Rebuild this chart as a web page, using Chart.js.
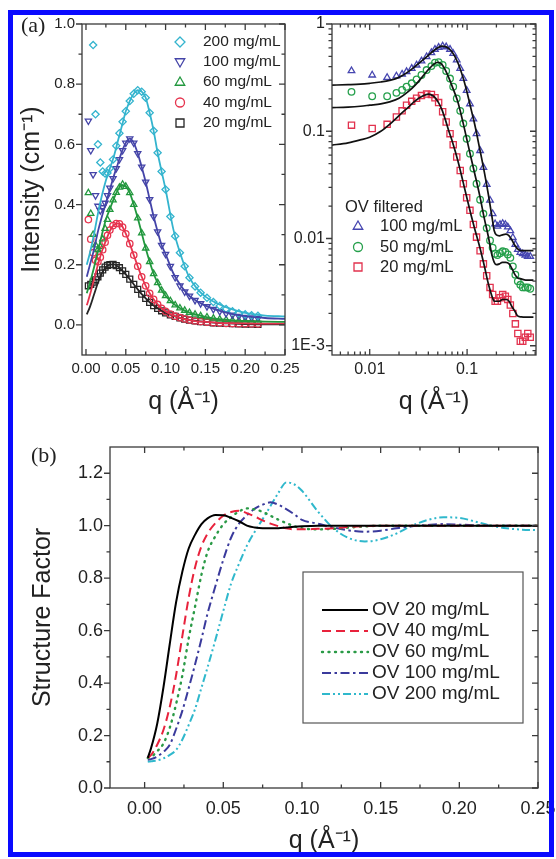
<!DOCTYPE html>
<html>
<head>
<meta charset="utf-8">
<script src="https://cdn.jsdelivr.net/npm/chart.js@4.4.0/dist/chart.umd.min.js"></script>
<style>
  html, body { margin: 0; padding: 0; background: #fff; }
  #page { position: relative; width: 556px; height: 859px; overflow: hidden; background: #fff; }
  canvas { position: absolute; }
  #frame { position: absolute; left: 8px; top: 10px; width: 536px; height: 837px; border: 5px solid #0a0aff; pointer-events: none; }
</style>
</head>
<body>
<div id="page">
  <canvas id="chartA" width="310" height="430" style="left:0;top:0;width:310px;height:430px"></canvas>
  <canvas id="chartB" width="266" height="430" style="left:290px;top:0;width:266px;height:430px"></canvas>
  <canvas id="chartC" width="556" height="429" style="left:0;top:430px;width:556px;height:429px"></canvas>
  <div id="frame"></div>
</div>
<script>
const FONT = '"Liberation Sans", Arial, sans-serif';

// ---- (a) left: intensity vs q, linear axes ----
const qA = [0.003, 0.006, 0.009, 0.012, 0.015, 0.018, 0.021, 0.024, 0.027, 0.030, 0.034, 0.038, 0.042, 0.046, 0.050,
  0.055, 0.060, 0.065, 0.070, 0.075, 0.080, 0.085, 0.090, 0.095, 0.100, 0.106, 0.112, 0.118, 0.124, 0.130,
  0.137, 0.144, 0.152, 0.160, 0.168, 0.176, 0.184, 0.192, 0.200, 0.208, 0.216];
const i200 = [null, null, 0.93, 0.70, 0.60, 0.54, 0.51, 0.503, 0.505, 0.52, 0.55, 0.595, 0.637, 0.675, 0.71,
  0.744, 0.768, 0.78, 0.775, 0.755, 0.705, 0.645, 0.572, 0.51, 0.45, 0.36, 0.295, 0.24, 0.195, 0.157,
  0.128, 0.107, 0.09, 0.076, 0.063, 0.053, 0.045, 0.039, 0.035, 0.032, 0.03];
const i100 = [0.678, 0.58, 0.5, 0.43, 0.395, 0.38, 0.39, 0.405, 0.43, 0.455, 0.487, 0.52, 0.55, 0.58, 0.605,
  0.619, 0.605, 0.57, 0.525, 0.475, 0.417, 0.36, 0.31, 0.265, 0.235, 0.195, 0.158, 0.13, 0.11, 0.096,
  0.082, 0.071, 0.061, 0.052, 0.045, 0.038, 0.033, 0.029, 0.026, 0.024, 0.022];
const i60 = [0.439, 0.37, 0.30, 0.265, 0.25, 0.26, 0.285, 0.32, 0.35, 0.383, 0.415, 0.44, 0.457, 0.467, 0.46,
  0.439, 0.40, 0.355, 0.305, 0.255, 0.21, 0.17, 0.14, 0.115, 0.097, 0.08, 0.066, 0.056, 0.048, 0.041,
  0.035, 0.03, 0.026, 0.022, 0.019, 0.017, 0.015, 0.014, 0.013, 0.012, 0.011];
const i40 = [0.35, 0.285, 0.24, 0.215, 0.21, 0.225, 0.25, 0.275, 0.298, 0.315, 0.33, 0.337, 0.336, 0.325, 0.303,
  0.27, 0.232, 0.195, 0.16, 0.13, 0.105, 0.085, 0.068, 0.055, 0.045, 0.036, 0.029, 0.024, 0.02, 0.016,
  0.013, 0.011, 0.009, 0.007, 0.006, 0.005, 0.0045, 0.004, 0.0035, 0.003, 0.003];
const i20 = [0.13, 0.135, 0.142, 0.15, 0.16, 0.172, 0.183, 0.192, 0.198, 0.2, 0.201, 0.197, 0.19, 0.18, 0.168,
  0.152, 0.135, 0.118, 0.102, 0.088, 0.075, 0.064, 0.055, 0.047, 0.04, 0.033, 0.028, 0.023, 0.019, 0.016,
  0.013, 0.011, 0.009, 0.007, 0.006, 0.005, 0.004, 0.0035, 0.003, 0.0025, 0.002];

const qFitA = [0.001, 0.005, 0.010, 0.015, 0.020, 0.025, 0.030, 0.035, 0.040, 0.045, 0.050, 0.055, 0.060, 0.065,
  0.070, 0.075, 0.080, 0.085, 0.090, 0.095, 0.100, 0.110, 0.120, 0.130, 0.140, 0.150, 0.165, 0.180, 0.200, 0.225, 0.250];
const fit200 = [0.2, 0.24, 0.3, 0.37, 0.43, 0.48, 0.52, 0.56, 0.61, 0.66, 0.71, 0.744, 0.768, 0.78, 0.775, 0.755,
  0.705, 0.645, 0.572, 0.51, 0.45, 0.315, 0.225, 0.157, 0.119, 0.094, 0.071, 0.055, 0.04, 0.031, 0.028];
const fit100 = [0.16, 0.2, 0.25, 0.31, 0.36, 0.405, 0.45, 0.495, 0.535, 0.575, 0.605, 0.619, 0.605, 0.57, 0.525, 0.475,
  0.417, 0.36, 0.31, 0.265, 0.235, 0.17, 0.127, 0.096, 0.078, 0.064, 0.049, 0.038, 0.029, 0.023, 0.02];
const fit60 = [0.105, 0.14, 0.19, 0.245, 0.3, 0.35, 0.385, 0.42, 0.448, 0.465, 0.46, 0.439, 0.40, 0.355, 0.305, 0.255,
  0.21, 0.17, 0.14, 0.115, 0.097, 0.07, 0.053, 0.041, 0.033, 0.027, 0.02, 0.016, 0.013, 0.011, 0.01];
const fit40 = [0.065, 0.1, 0.15, 0.2, 0.245, 0.28, 0.312, 0.332, 0.337, 0.33, 0.303, 0.27, 0.232, 0.195, 0.16, 0.13,
  0.105, 0.085, 0.068, 0.055, 0.045, 0.031, 0.022, 0.016, 0.012, 0.01, 0.007, 0.006, 0.005, 0.004, 0.004];
const fit20 = [0.035, 0.06, 0.1, 0.14, 0.172, 0.192, 0.2, 0.201, 0.194, 0.182, 0.168, 0.152, 0.135, 0.118, 0.102, 0.088,
  0.075, 0.064, 0.055, 0.047, 0.04, 0.03, 0.022, 0.016, 0.013, 0.01, 0.007, 0.005, 0.003, 0.002, 0.002];

const ticksQA = [0, 0.05, 0.10, 0.15, 0.20, 0.25];
const ticksIA = [0, 0.2, 0.4, 0.6, 0.8, 1.0];

// ---- (a) right: filtered samples, log-log ----
const qR = [0.0065, 0.0106, 0.0151, 0.0188, 0.0215, 0.0239, 0.027, 0.0303, 0.034, 0.0384, 0.043, 0.0468, 0.051,
  0.0561, 0.061, 0.0668, 0.072, 0.0783, 0.085, 0.0915, 0.099, 0.107, 0.116, 0.125, 0.136, 0.147, 0.159, 0.172,
  0.183, 0.194, 0.205, 0.218, 0.232, 0.247, 0.262, 0.278, 0.295, 0.313, 0.332, 0.352, 0.373, 0.396, 0.42, 0.445];
const iF100 = [0.366, 0.334, 0.317, 0.327, 0.34, 0.359, 0.385, 0.414, 0.452, 0.495, 0.54, 0.58, 0.605, 0.623, 0.612,
  0.58, 0.53, 0.461, 0.385, 0.31, 0.24, 0.18, 0.13, 0.095, 0.066, 0.046, 0.032, 0.0227, 0.017, 0.0137, 0.013,
  0.0135, 0.0138, 0.0135, 0.0128, 0.0118, 0.0102, 0.0088, 0.0079, 0.0074, 0.0072, 0.007, 0.0068, 0.0068];
const iF50 = [0.233, 0.212, 0.212, 0.228, 0.243, 0.26, 0.28, 0.304, 0.335, 0.372, 0.405, 0.435, 0.44, 0.415, 0.365,
  0.31, 0.26, 0.202, 0.155, 0.118, 0.085, 0.0618, 0.045, 0.0324, 0.023, 0.017, 0.0125, 0.0096, 0.0082, 0.0072,
  0.007, 0.0073, 0.0076, 0.0075, 0.0071, 0.0066, 0.0055, 0.0046, 0.004, 0.0037, 0.0035, 0.0035, 0.0035, 0.0034];
const iF20 = [0.114, 0.106, 0.116, 0.136, 0.155, 0.175, 0.19, 0.203, 0.215, 0.222, 0.22, 0.205, 0.185, 0.152, 0.122,
  0.095, 0.075, 0.0576, 0.043, 0.0324, 0.024, 0.0183, 0.0135, 0.0103, 0.0077, 0.0058, 0.0045, 0.0035, 0.003, 0.0026,
  0.0026, 0.0028, 0.003, 0.0029, 0.0027, 0.0024, 0.002, 0.0016, 0.0013, 0.0011, 0.0011, 0.0012, 0.0013, 0.0012];

const qFitR = [0.004, 0.006, 0.008, 0.01, 0.013, 0.016, 0.02, 0.025, 0.03, 0.035, 0.04, 0.045, 0.05, 0.055, 0.06,
  0.065, 0.07, 0.08, 0.09, 0.1, 0.11, 0.12, 0.135, 0.15, 0.165, 0.18, 0.19, 0.2, 0.215, 0.23, 0.25, 0.27, 0.29,
  0.31, 0.33, 0.36, 0.4, 0.44, 0.48];
const fitF100 = [0.269, 0.272, 0.275, 0.28, 0.288, 0.298, 0.318, 0.36, 0.41, 0.46, 0.51, 0.56, 0.6, 0.622, 0.615,
  0.59, 0.55, 0.44, 0.325, 0.23, 0.16, 0.115, 0.068, 0.042, 0.026, 0.016, 0.0118, 0.0108, 0.0106, 0.0108, 0.011,
  0.0106, 0.0096, 0.0086, 0.008, 0.0077, 0.0077, 0.0077, 0.0077];
const fitF50 = [0.166, 0.168, 0.171, 0.175, 0.18, 0.188, 0.203, 0.235, 0.275, 0.325, 0.375, 0.418, 0.44, 0.42, 0.37,
  0.315, 0.265, 0.19, 0.125, 0.082, 0.056, 0.04, 0.025, 0.0155, 0.0105, 0.007, 0.006, 0.0057, 0.0058, 0.006, 0.006,
  0.0058, 0.0052, 0.0046, 0.0043, 0.0042, 0.0041, 0.0041, 0.0041];
const fitF20 = [0.074, 0.078, 0.083, 0.088, 0.1, 0.116, 0.14, 0.168, 0.195, 0.213, 0.222, 0.213, 0.19, 0.16, 0.127,
  0.1, 0.082, 0.054, 0.035, 0.0235, 0.0165, 0.0122, 0.0083, 0.0056, 0.0038, 0.0029, 0.0026, 0.0026, 0.0026, 0.0027,
  0.0027, 0.0026, 0.0023, 0.0021, 0.0019, 0.00186, 0.00185, 0.00185, 0.00185];

const ticksQR = [0.01, 0.1];
const ticksIR = [0.001, 0.01, 0.1, 1];

// ---- (b) structure factor ----
const qS = [0.002, 0.004, 0.008, 0.012, 0.016, 0.02, 0.024, 0.028, 0.032, 0.036, 0.04, 0.045, 0.05, 0.055, 0.06,
  0.065, 0.07, 0.075, 0.08, 0.085, 0.09, 0.095, 0.1, 0.11, 0.12, 0.13, 0.14, 0.15, 0.16, 0.17, 0.18, 0.19, 0.2,
  0.21, 0.22, 0.23, 0.24, 0.25];
const s20 = [0.115, 0.15, 0.245, 0.385, 0.55, 0.708, 0.825, 0.913, 0.965, 1.005, 1.028, 1.041, 1.04, 1.03, 1.017,
  1.0, 0.993, 0.99, 0.99, 0.99, 0.993, 0.996, 0.998, 1.0, 1.0, 1.0, 1.0, 1.0, 1.0, 1.0, 1.0, 1.0, 1.0, 1.0, 1.0, 1.0, 1.0, 1.0];
const s40 = [0.115, 0.125, 0.165, 0.222, 0.31, 0.43, 0.58, 0.725, 0.84, 0.92, 0.97, 1.01, 1.038, 1.052, 1.057,
  1.048, 1.035, 1.02, 1.008, 0.998, 0.99, 0.986, 0.986, 0.988, 0.99, 0.995, 0.998, 1.0, 1.0, 1.0, 1.0, 1.0, 1.0,
  1.0, 1.0, 1.0, 1.0, 1.0];
const s60 = [0.115, 0.118, 0.14, 0.17, 0.23, 0.32, 0.43, 0.57, 0.69, 0.81, 0.9, 0.96, 1.005, 1.033, 1.054,
  1.066, 1.062, 1.053, 1.038, 1.023, 1.01, 0.998, 0.99, 0.986, 0.988, 0.993, 0.997, 1.0, 1.0, 1.0, 1.0, 1.0, 1.0,
  1.0, 1.0, 1.0, 1.0, 1.0];
const s100 = [0.108, 0.11, 0.12, 0.138, 0.165, 0.225, 0.295, 0.38, 0.47, 0.565, 0.665, 0.77, 0.87, 0.955, 1.008,
  1.04, 1.065, 1.08, 1.089, 1.08, 1.063, 1.044, 1.022, 1.008, 0.993, 0.982, 0.977, 0.981, 0.99, 0.998, 1.003,
  1.006, 1.004, 1.002, 1.0, 1.0, 1.0, 1.0];
const s200 = [0.1, 0.102, 0.105, 0.113, 0.126, 0.145, 0.185, 0.24, 0.3, 0.38, 0.46, 0.565, 0.675, 0.78, 0.855,
  0.924, 0.977, 1.025, 1.075, 1.125, 1.165, 1.158, 1.133, 1.055, 0.99, 0.952, 0.94, 0.948, 0.97, 1.0, 1.022,
  1.032, 1.03, 1.016, 1.0, 0.99, 0.985, 0.983];

const ticksQS = [0, 0.05, 0.10, 0.15, 0.20, 0.25];
const ticksSS = [0, 0.2, 0.4, 0.6, 0.8, 1.0, 1.2];

// ---- helpers ----
function pts(xs, ys) {
  return xs.map((x, i) => ({ x: x, y: ys[i] })).filter(p => p.y != null);
}
function mids(vals, step) {
  return vals.slice(0, -1).map(v => v + step);
}
function logMinor(min, max) {
  const out = [];
  for (let e = -4; e <= 0; e++) {
    for (let k = 2; k <= 9; k++) {
      const v = k * Math.pow(10, e);
      if (v > min && v < max) out.push(v);
    }
  }
  return out;
}

function fitLine(xs, ys, color, w) {
  return { data: pts(xs, ys), showLine: true, borderColor: color, borderWidth: w, pointRadius: 0,
    cubicInterpolationMode: 'monotone', fill: false };
}
function markers(label, xs, ys, color, style, rot, mark, r) {
  return { label: label, data: pts(xs, ys), showLine: false, pointStyle: style, pointRotation: rot,
    pointRadius: r, pointBorderWidth: 1.3, pointBorderColor: color, pointBackgroundColor: 'rgba(0,0,0,0)',
    borderColor: color, mark: mark };
}
function curve(label, xs, ys, color, dash, cap, w) {
  return { label: label, data: pts(xs, ys), showLine: true, borderColor: color, borderWidth: w,
    borderDash: dash, borderCapStyle: cap, pointRadius: 0, cubicInterpolationMode: 'monotone', fill: false };
}

function axis(o) {
  const horiz = o.pos === 'bottom';
  return {
    type: o.log ? 'logarithmic' : 'linear',
    position: o.pos, min: o.min, max: o.max,
    grid: { display: false, drawTicks: false },
    border: { display: false },
    afterBuildTicks: s => { s.ticks = o.ticks.map(v => ({ value: v })); },
    afterFit: s => {
      if (horiz) { s.height = o.fit; s.paddingLeft = 0; s.paddingRight = 0; }
      else { s.width = o.fit; s.paddingTop = 0; s.paddingBottom = 0; }
    },
    ticks: { autoSkip: false, maxRotation: 0, padding: o.pad, color: '#222',
      font: { family: FONT, size: o.size }, callback: o.fmt },
    title: { display: !!o.title, text: o.title || '', color: '#222',
      font: { family: FONT, size: 25, lineHeight: 1 }, padding: o.tpad || 0 }
  };
}

function drawMarker(ctx, style, x, y, r) {
  ctx.beginPath();
  if (style === 'circle') {
    ctx.arc(x, y, r * 0.9, 0, Math.PI * 2);
  } else if (style === 'rect') {
    ctx.rect(x - r * 0.8, y - r * 0.8, r * 1.6, r * 1.6);
  } else if (style === 'diamond') {
    ctx.moveTo(x, y - r); ctx.lineTo(x + r, y); ctx.lineTo(x, y + r); ctx.lineTo(x - r, y); ctx.closePath();
  } else if (style === 'up') {
    ctx.moveTo(x, y - r); ctx.lineTo(x + r * 0.95, y + r * 0.65); ctx.lineTo(x - r * 0.95, y + r * 0.65); ctx.closePath();
  } else if (style === 'down') {
    ctx.moveTo(x, y + r); ctx.lineTo(x + r * 0.95, y - r * 0.65); ctx.lineTo(x - r * 0.95, y - r * 0.65); ctx.closePath();
  }
  ctx.stroke();
}

// frame around the plot with inward ticks (left side outward), plus panel letter
const frameTicks = {
  id: 'frameTicks',
  afterDatasetsDraw(chart, args, o) {
    const ctx = chart.ctx, a = chart.chartArea;
    const x = chart.scales.x, y = chart.scales.y;
    ctx.save();
    ctx.strokeStyle = '#3a3a3a';
    ctx.lineWidth = 1.3;
    ctx.strokeRect(a.left, a.top, a.right - a.left, a.bottom - a.top);
    ctx.beginPath();
    const xs = (vals, len) => vals.forEach(v => {
      const p = x.getPixelForValue(v);
      ctx.moveTo(p, a.bottom); ctx.lineTo(p, a.bottom - len);
      ctx.moveTo(p, a.top); ctx.lineTo(p, a.top + len);
    });
    const ys = (vals, len) => vals.forEach(v => {
      const p = y.getPixelForValue(v);
      ctx.moveTo(a.left, p); ctx.lineTo(a.left - len, p);
      ctx.moveTo(a.right, p); ctx.lineTo(a.right - len, p);
    });
    xs(o.xMajor, 6); xs(o.xMinor, 3.5);
    ys(o.yMajor, 6); ys(o.yMinor, 3.5);
    ctx.stroke();
    if (o.label) {
      ctx.fillStyle = '#222';
      ctx.font = '22px "Liberation Serif", "Times New Roman", serif';
      ctx.textBaseline = 'middle';
      ctx.textAlign = 'left';
      ctx.fillText(o.label.text, o.label.x - chart.canvas.offsetLeft, o.label.y - chart.canvas.offsetTop);
    }
    ctx.restore();
  }
};

// legend placed inside the plot, coordinates given in page pixels
const insetLegend = {
  id: 'insetLegend',
  afterDraw(chart, args, o) {
    if (!o.items) return;
    const ctx = chart.ctx;
    const dx = -chart.canvas.offsetLeft, dy = -chart.canvas.offsetTop;
    ctx.save();
    ctx.font = o.size + 'px ' + FONT;
    ctx.textBaseline = 'middle';
    ctx.textAlign = 'left';
    if (o.box) {
      ctx.strokeStyle = '#555';
      ctx.lineWidth = 1.2;
      ctx.strokeRect(o.box[0] + dx, o.box[1] + dy, o.box[2], o.box[3]);
    }
    o.items.forEach(it => {
      const ds = it.ds == null ? null : chart.data.datasets[it.ds];
      const x = it.x + dx, y = it.y + dy;
      if (ds && o.lines) {
        ctx.strokeStyle = ds.borderColor;
        ctx.lineWidth = ds.borderWidth;
        ctx.lineCap = ds.borderCapStyle || 'butt';
        ctx.setLineDash(ds.borderDash || []);
        ctx.beginPath();
        ctx.moveTo(x, y); ctx.lineTo(x + o.lineLen, y);
        ctx.stroke();
        ctx.setLineDash([]);
      } else if (ds) {
        ctx.strokeStyle = ds.pointBorderColor;
        ctx.lineWidth = 1.3;
        drawMarker(ctx, ds.mark, x, y, o.r);
      }
      ctx.fillStyle = '#222';
      ctx.fillText(it.text || ds.label, it.tx + dx, y);
    });
    ctx.restore();
  }
};

function baseOptions(pad, scales, plugins) {
  return {
    responsive: false, animation: false, devicePixelRatio: 1,
    layout: { padding: pad },
    scales: scales,
    plugins: Object.assign({ legend: { display: false }, tooltip: { enabled: false } }, plugins)
  };
}

// ---- chart (a) left ----
const cA = { c200: '#34b4ce', c100: '#4444a8', c60: '#22983e', c40: '#e6344e', c20: '#262626' };
new Chart(document.getElementById('chartA'), {
  type: 'scatter',
  data: {
    datasets: [
      fitLine(qFitA, fit200, cA.c200, 1.8),
      fitLine(qFitA, fit100, cA.c100, 1.8),
      fitLine(qFitA, fit60, cA.c60, 1.8),
      fitLine(qFitA, fit40, cA.c40, 1.8),
      fitLine(qFitA, fit20, cA.c20, 1.8),
      markers('200 mg/mL', qA, i200, cA.c200, 'rectRot', 0, 'diamond', 3.6),
      markers('100 mg/mL', qA, i100, cA.c100, 'triangle', 180, 'down', 3.6),
      markers('60 mg/mL', qA, i60, cA.c60, 'triangle', 0, 'up', 3.6),
      markers('40 mg/mL', qA, i40, cA.c40, 'circle', 0, 'circle', 3.2),
      markers('20 mg/mL', qA, i20, cA.c20, 'rect', 0, 'rect', 4.2)
    ]
  },
  options: baseOptions({ top: 24, right: 25, left: 0, bottom: 0 }, {
    x: axis({ pos: 'bottom', min: -0.005, max: 0.25, ticks: ticksQA, fmt: v => v.toFixed(2), size: 15,
      pad: 5, fit: 75, title: 'q (\u00c5\u207b\u00b9)', tpad: { bottom: 15.5 } }),
    y: axis({ pos: 'left', min: -0.1, max: 1.0, ticks: ticksIA, fmt: v => v.toFixed(1), size: 15,
      pad: 7, fit: 82, title: 'Intensity (cm\u207b\u00b9)', tpad: { top: 19.5 } })
  }, {
    frameTicks: { xMajor: ticksQA, xMinor: mids(ticksQA, 0.025), yMajor: ticksIA, yMinor: mids(ticksIA, 0.1),
      label: { text: '(a)', x: 21, y: 26 } },
    insetLegend: { size: 15.5, r: 5, items: [
      { ds: 5, x: 180, y: 42, tx: 203 },
      { ds: 6, x: 180, y: 62, tx: 203 },
      { ds: 7, x: 180, y: 82, tx: 203 },
      { ds: 8, x: 180, y: 102.5, tx: 203 },
      { ds: 9, x: 180, y: 123, tx: 203 }
    ] }
  }),
  plugins: [frameTicks, insetLegend]
});

// ---- chart (a) right ----
const cB = { c100: '#4646b0', c50: '#26a04c', c20: '#e2324e' };
new Chart(document.getElementById('chartB'), {
  type: 'scatter',
  data: {
    datasets: [
      fitLine(qFitR, fitF100, '#111', 1.7),
      fitLine(qFitR, fitF50, '#111', 1.7),
      fitLine(qFitR, fitF20, '#111', 1.7),
      markers('100 mg/mL', qR, iF100, cB.c100, 'triangle', 0, 'up', 3.8),
      markers('50 mg/mL', qR, iF50, cB.c50, 'circle', 0, 'circle', 3.3),
      markers('20 mg/mL', qR, iF20, cB.c20, 'rect', 0, 'rect', 4.4)
    ]
  },
  options: baseOptions({ top: 24, right: 20, left: 0, bottom: 0 }, {
    x: axis({ pos: 'bottom', log: true, min: 0.0041, max: 0.51, ticks: ticksQR, fmt: v => String(v), size: 16,
      pad: 5, fit: 75, title: 'q (\u00c5\u207b\u00b9)', tpad: { bottom: 15.5 } }),
    y: axis({ pos: 'left', log: true, min: 0.00082, max: 1, ticks: ticksIR,
      fmt: v => (v === 0.001 ? '1E-3' : String(v)), size: 16, pad: 7, fit: 42 })
  }, {
    frameTicks: { xMajor: ticksQR, xMinor: logMinor(0.0041, 0.51), yMajor: ticksIR, yMinor: logMinor(0.00082, 1) },
    insetLegend: { size: 16.5, r: 5, items: [
      { ds: null, text: 'OV filtered', x: 345, y: 207, tx: 345 },
      { ds: 3, x: 358, y: 226, tx: 380 },
      { ds: 4, x: 358, y: 247, tx: 380 },
      { ds: 5, x: 358, y: 267, tx: 380 }
    ] }
  }),
  plugins: [frameTicks, insetLegend]
});

// ---- chart (b) ----
new Chart(document.getElementById('chartC'), {
  type: 'scatter',
  data: {
    datasets: [
      curve('OV 20 mg/mL', qS, s20, '#000000', [], 'butt', 2),
      curve('OV 40 mg/mL', qS, s40, '#e8223c', [9, 5], 'butt', 2),
      curve('OV 60 mg/mL', qS, s60, '#2a9a46', [1, 5.5], 'round', 2.4),
      curve('OV 100 mg/mL', qS, s100, '#3a3a9c', [9, 3.5, 2.5, 3.5], 'butt', 2),
      curve('OV 200 mg/mL', qS, s200, '#2fb8cc', [8, 3, 2, 3, 2, 3], 'butt', 2)
    ]
  },
  options: baseOptions({ top: 17, right: 18, left: 0, bottom: 0 }, {
    x: axis({ pos: 'bottom', min: -0.022, max: 0.25, ticks: ticksQS, fmt: v => v.toFixed(2), size: 18,
      pad: 10, fit: 71, title: 'q (\u00c5\u207b\u00b9)', tpad: { bottom: 5.5 } }),
    y: axis({ pos: 'left', min: 0, max: 1.3, ticks: ticksSS, fmt: v => v.toFixed(1), size: 18,
      pad: 7, fit: 110, title: 'Structure Factor', tpad: { top: 30.5 } })
  }, {
    frameTicks: { xMajor: ticksQS, xMinor: mids(ticksQS, 0.025), yMajor: ticksSS,
      yMinor: mids(ticksSS, 0.1), label: { text: '(b)', x: 31, y: 456 } },
    insetLegend: { size: 19, lines: true, lineLen: 46, box: [303, 572, 220, 151], items: [
      { ds: 0, x: 322, y: 610, tx: 372 },
      { ds: 1, x: 322, y: 631, tx: 372 },
      { ds: 2, x: 322, y: 652, tx: 372 },
      { ds: 3, x: 322, y: 673, tx: 372 },
      { ds: 4, x: 322, y: 694, tx: 372 }
    ] }
  }),
  plugins: [frameTicks, insetLegend]
});
</script>
</body>
</html>
